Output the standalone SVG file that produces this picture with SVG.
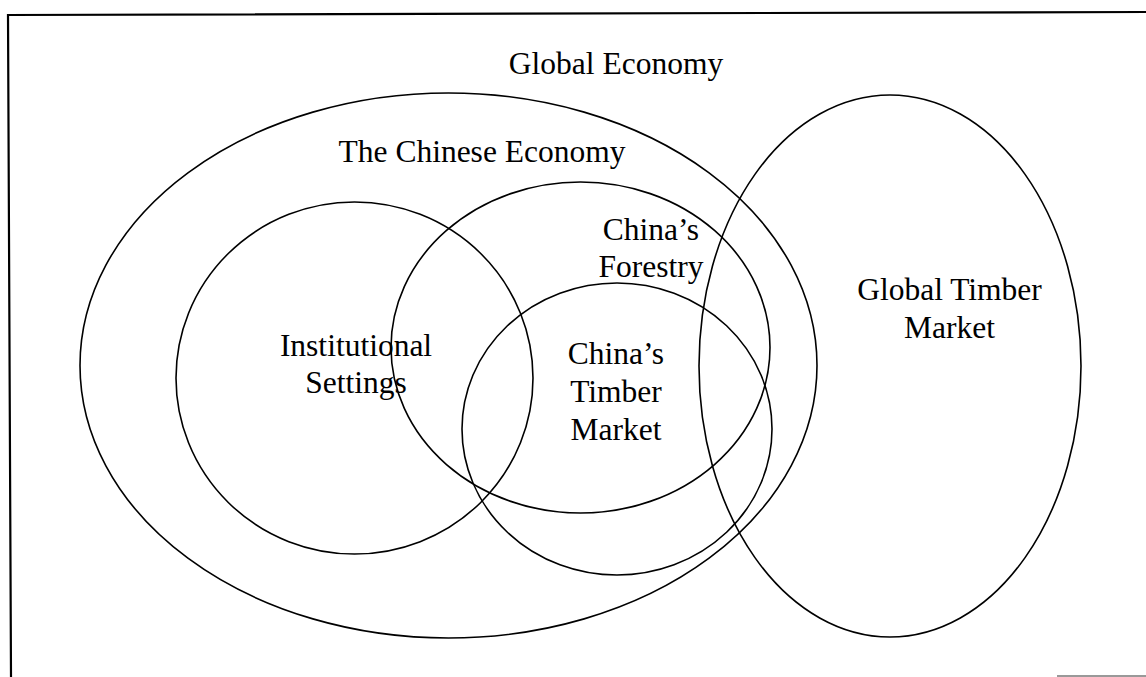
<svg xmlns="http://www.w3.org/2000/svg" width="1146" height="677" viewBox="0 0 1146 677">
<style>
.e{fill:none;stroke:#000;stroke-width:1.6}
.t{font-family:"Liberation Serif","Times New Roman",serif;font-size:31.5px;fill:#000;text-anchor:middle}
.f{fill:none;stroke:#000;stroke-width:2.2}
</style>
<rect width="1146" height="677" fill="#fff"/>
<g id="frame">
<path class="f" d="M1146,12 L8,15 L11,677"/>
<line x1="1057" y1="676" x2="1146" y2="676" stroke="#777" stroke-width="1.5"/>
</g>
<g id="global-economy">
<text class="t" x="616" y="74">Global Economy</text>
</g>
<g id="chinese-economy">
<ellipse class="e" cx="448.5" cy="365.5" rx="368.5" ry="272.5"/>
<text class="t" x="482" y="162">The Chinese Economy</text>
</g>
<g id="institutional-settings">
<ellipse class="e" cx="354.5" cy="378" rx="178.5" ry="176"/>
<text class="t" x="356" y="356">Institutional</text>
<text class="t" x="356" y="393">Settings</text>
</g>
<g id="chinas-forestry">
<ellipse class="e" cx="580.5" cy="347.5" rx="189.5" ry="165.5"/>
<text class="t" x="651" y="240">China’s</text>
<text class="t" x="651" y="277">Forestry</text>
</g>
<g id="chinas-timber-market">
<ellipse class="e" cx="617" cy="429" rx="155" ry="146"/>
<text class="t" x="616" y="364">China’s</text>
<text class="t" x="616" y="402">Timber</text>
<text class="t" x="616" y="440">Market</text>
</g>
<g id="global-timber-market">
<ellipse class="e" cx="890" cy="366" rx="191" ry="271"/>
<text class="t" x="949.5" y="300">Global Timber</text>
<text class="t" x="949.5" y="338">Market</text>
</g>
<g id="connectors"/>
</svg>
